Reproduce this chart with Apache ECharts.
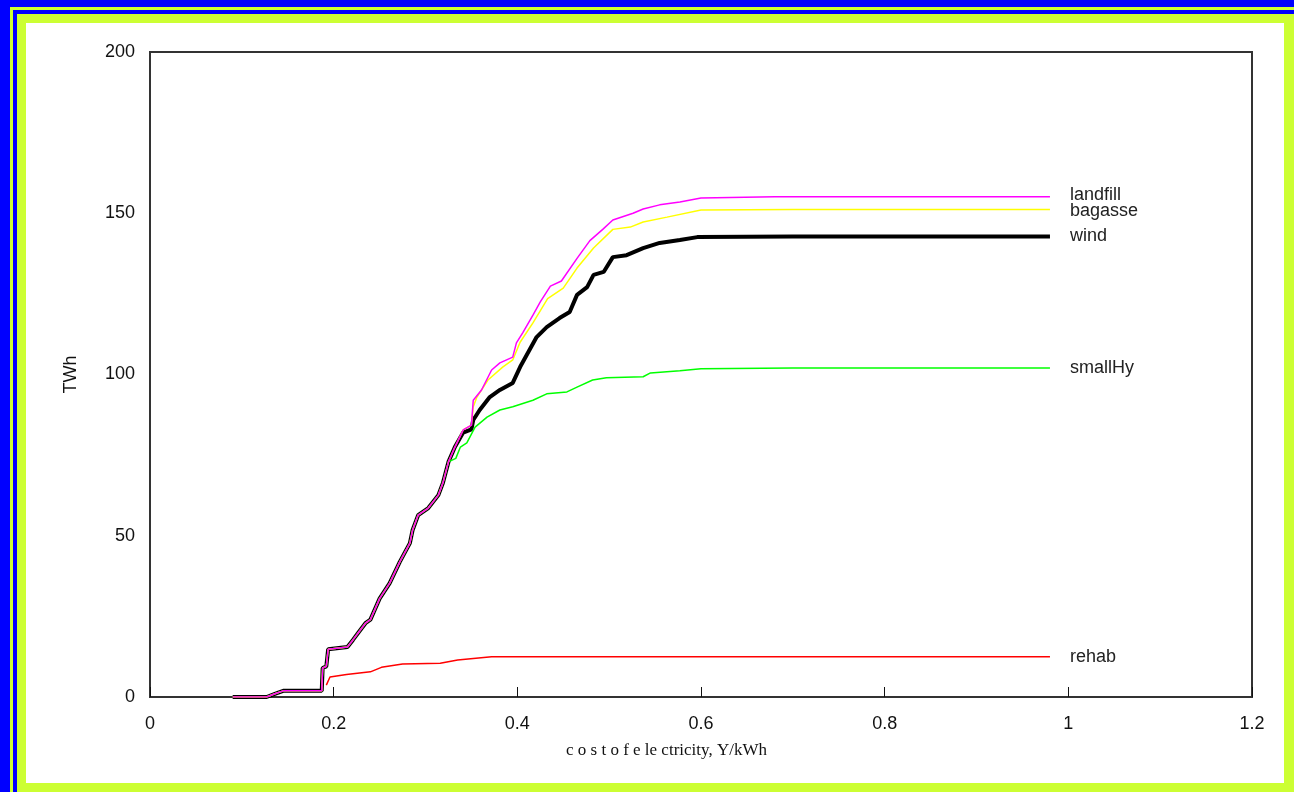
<!DOCTYPE html>
<html>
<head>
<meta charset="utf-8">
<script src="https://cdn.jsdelivr.net/npm/echarts@6/dist/echarts.min.js"></script>
<style>
  html, body { margin: 0; padding: 0; }
  body { width: 1294px; height: 792px; background: #0000ff; position: relative; overflow: hidden; }
  .frame { position: absolute; }
  #chart { position: absolute; left: 0; top: 0; width: 1294px; height: 792px; }
</style>
</head>
<body>
<!-- frame layers: yellow / blue / yellow / white -->
<div class="frame" style="left:10px;top:7px;right:0;bottom:0;background:#ccff33"></div>
<div class="frame" style="left:13px;top:10px;right:0;bottom:0;background:#0000ff"></div>
<div class="frame" style="left:17px;top:14px;right:0;bottom:0;background:#ccff33"></div>
<div class="frame" style="left:26px;top:23px;right:10px;bottom:9px;background:#ffffff"></div>
<div id="chart"></div>
<script>
// common part of the cumulative curves (all except rehab coincide below ~0.33)
var basePts = [
  [0.09, 0], [0.127, 0], [0.136, 1], [0.145, 1.9], [0.187, 1.9], [0.188, 9],
  [0.192, 9.5], [0.194, 14.8], [0.215, 15.5], [0.221, 17.7], [0.227, 20],
  [0.235, 23], [0.24, 24], [0.25, 30.5], [0.261, 35.3], [0.272, 41.9],
  [0.283, 47.7], [0.286, 51.8], [0.292, 56.4], [0.303, 58.6], [0.314, 62.6],
  [0.319, 66.4], [0.325, 72.9]
];
var smallHyTail = [
  [0.333, 74], [0.338, 77.5], [0.345, 78.8], [0.354, 83.7], [0.367, 86.8],
  [0.381, 89], [0.395, 90], [0.417, 92], [0.432, 94], [0.454, 94.6],
  [0.465, 96.1], [0.482, 98.3], [0.497, 99], [0.537, 99.3], [0.545, 100.5],
  [0.577, 101.2], [0.6, 101.8], [0.7, 102], [0.98, 102]
];
var windTail = [
  [0.332, 77.5], [0.341, 82], [0.35, 83], [0.352, 85.9], [0.359, 89],
  [0.37, 93], [0.381, 95.2], [0.395, 97.4], [0.403, 102.3], [0.421, 111.6],
  [0.432, 114.7], [0.446, 117.5], [0.457, 119.4], [0.465, 124.7],
  [0.476, 127.1], [0.483, 130.9], [0.494, 131.8], [0.504, 136.4],
  [0.519, 137], [0.537, 139.2], [0.555, 140.8], [0.577, 141.7],
  [0.596, 142.6], [0.7, 142.8], [0.98, 142.8]
];
var bagasseTail = [
  [0.332, 77.5], [0.341, 82.8], [0.35, 84.3], [0.352, 90], [0.356, 93],
  [0.368, 98.3], [0.384, 102.3], [0.395, 104.5], [0.403, 110], [0.417, 116],
  [0.433, 123.5], [0.45, 126.8], [0.465, 133], [0.483, 139.2], [0.504, 145],
  [0.523, 145.7], [0.537, 147.3], [0.563, 148.8], [0.6, 151], [0.7, 151.2],
  [0.98, 151.2]
];
var landfillTail = [
  [0.332, 77.5], [0.341, 82.8], [0.35, 84.3], [0.352, 92], [0.361, 95.2],
  [0.372, 101.4], [0.381, 103.6], [0.395, 105.4], [0.399, 109.8],
  [0.406, 113], [0.417, 118.4], [0.425, 122.5], [0.436, 127.4], [0.448, 129],
  [0.465, 136], [0.479, 141.5], [0.493, 145], [0.504, 147.9], [0.526, 150],
  [0.537, 151.3], [0.555, 152.6], [0.577, 153.5], [0.6, 154.7],
  [0.68, 155.1], [0.98, 155.1]
];
var rehabPts = [
  [0.192, 3.7], [0.196, 6.2], [0.214, 7], [0.24, 7.8], [0.252, 9.2],
  [0.275, 10.2], [0.316, 10.5], [0.335, 11.5], [0.372, 12.5], [0.98, 12.5]
];
var xTicks = [0, 0.2, 0.4, 0.6, 0.8, 1, 1.2];
var yTicks = [0, 50, 100, 150, 200];

var chart = echarts.init(document.getElementById('chart'));

function line (name, data, color, width, z, offset) {
  return {
    name: name,
    type: 'line',
    data: data,
    showSymbol: false,
    z: z,
    lineStyle: { color: color, width: width },
    endLabel: {
      show: true,
      formatter: '{a}',
      distance: 20,
      offset: offset || [0, 0],
      color: '#222',
      fontSize: 18,
      fontFamily: 'Liberation Sans, Arial, sans-serif'
    }
  };
}

var axisFont = { color: '#111', fontSize: 18, fontFamily: 'Liberation Sans, Arial, sans-serif' };

chart.setOption({
  animation: false,
  grid: {
    left: 150, top: 52, right: 42, bottom: 95,
    show: true, borderColor: '#333', borderWidth: 2
  },
  // x title sits left of the plot centre in the original
  graphic: [{
    type: 'text',
    left: 566,
    top: 742,
    style: {
      text: 'c o s t o f e le ctricity, Y/kWh',
      fill: '#111',
      fontSize: 17,
      fontFamily: 'Liberation Serif, Times New Roman, serif'
    }
  }],
  xAxis: {
    type: 'value',
    min: xTicks[0], max: xTicks[xTicks.length - 1], interval: 0.2,
    axisLine: { lineStyle: { color: '#333', width: 2 } },
    axisTick: { inside: true, length: 10, lineStyle: { color: '#111' } },
    axisLabel: Object.assign({ margin: 18 }, axisFont),
    splitLine: { show: false }
  },
  yAxis: {
    type: 'value',
    min: yTicks[0], max: yTicks[yTicks.length - 1], interval: 50,
    name: 'TWh',
    nameLocation: 'middle',
    nameGap: 70,
    nameTextStyle: { color: '#111', fontSize: 18, fontFamily: 'Liberation Sans, Arial, sans-serif' },
    axisLine: { show: true, lineStyle: { color: '#333', width: 2 } },
    axisTick: { show: false },
    axisLabel: Object.assign({ margin: 15 }, axisFont),
    splitLine: { show: false }
  },
  series: [
    line('rehab', rehabPts, '#ff0000', 1.5, 1),
    line('wind', basePts.concat(windTail), '#000000', 4, 2),
    line('smallHy', basePts.concat(smallHyTail), '#00ff00', 1.5, 3),
    line('bagasse', basePts.concat(bagasseTail), '#ffff00', 1.5, 4, [0, 2]),
    line('landfill', basePts.concat(landfillTail), '#ff00ff', 1.5, 5, [0, -2])
  ]
});
</script>
</body>
</html>
